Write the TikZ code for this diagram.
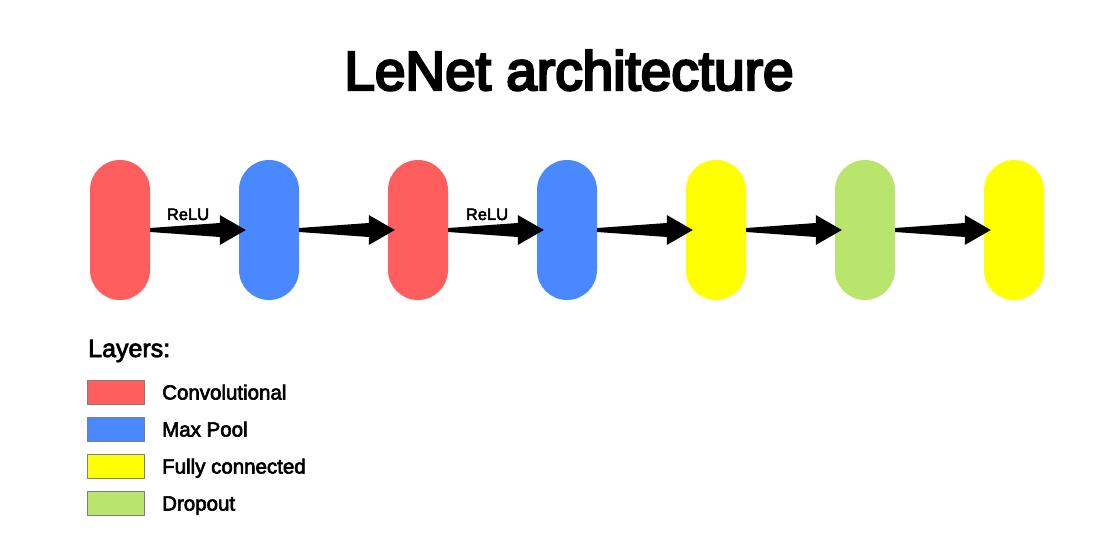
\documentclass[tikz,border=0pt]{standalone}
\usepackage{fontspec}
\setmainfont{Liberation Sans}[FakeBold=3]
\newfontfamily\titlefont{Liberation Sans}[FakeBold=4.5]
\usetikzlibrary{calc}
\definecolor{convred}{HTML}{FF5E5E}
\definecolor{poolblue}{HTML}{4A88FF}
\definecolor{fcyellow}{HTML}{FFFF00}
\definecolor{dropgreen}{HTML}{B9E56C}
\definecolor{swborder}{HTML}{7F7F7F}
\tikzset{
  pill/.style={rectangle, rounded corners=30pt, minimum width=60pt, minimum height=140pt, inner sep=0pt, draw=none, fill=#1},
  swatch/.style={rectangle, minimum width=57pt, minimum height=24pt, inner sep=0pt, draw=swborder, line width=1pt, fill=#1},
  legtext/.style={anchor=base west, inner sep=0pt, font=\fontsize{20.5}{24}\selectfont},
  relu/.style={anchor=base, inner sep=0pt, font=\fontsize{16.5}{19}\selectfont},
  arrowfill/.style={fill=black}
}
\newcommand\fatarrow[2]{%
  \fill[arrowfill] ($(#1.east)+(0,-2)$) -- ($(#2.west)+(-19,-7)$) -- ($(#2.west)+(-19,-15)$) -- ($(#2.west)+(7,0)$) -- ($(#2.west)+(-19,15)$) -- ($(#2.west)+(-19,7)$) -- ($(#1.east)+(0,2)$) -- cycle;}
\begin{document}
\begin{tikzpicture}[x=1pt, y=-1pt]
\useasboundingbox (0,0) rectangle (1119,556);
\node[anchor=base, inner sep=0pt, font=\titlefont\fontsize{55}{60}\selectfont] (title) at (569,90) {LeNet architecture};
\node[pill=convred] (c1) at (120,230) {};
\node[pill=poolblue] (p1) at (269,230) {};
\node[pill=convred] (c2) at (418,230) {};
\node[pill=poolblue] (p2) at (567,230) {};
\node[pill=fcyellow] (f1) at (716,230) {};
\node[pill=dropgreen] (d1) at (865,230) {};
\node[pill=fcyellow] (f2) at (1014,230) {};
\fatarrow{c1}{p1}
\fatarrow{p1}{c2}
\fatarrow{c2}{p2}
\fatarrow{p2}{f1}
\fatarrow{f1}{d1}
\fatarrow{d1}{f2}
\node[relu] (r1) at (188,220) {ReLU};
\node[relu] (r2) at (487,220) {ReLU};
\node[anchor=base west, inner sep=0pt, font=\fontsize{25}{30}\selectfont] (layers) at (88,357) {Layers:};
\node[swatch=convred] (s1) at (115.5,392) {};
\node[swatch=poolblue] (s2) at (115.5,429) {};
\node[swatch=fcyellow] (s3) at (115.5,466) {};
\node[swatch=dropgreen] (s4) at (115.5,503) {};
\node[legtext] (t1) at (162,399.5) {Convolutional};
\node[legtext] (t2) at (162,436.5) {Max Pool};
\node[legtext] (t3) at (162,473.5) {Fully connected};
\node[legtext] (t4) at (162,510.5) {Dropout};
\end{tikzpicture}
\end{document}
